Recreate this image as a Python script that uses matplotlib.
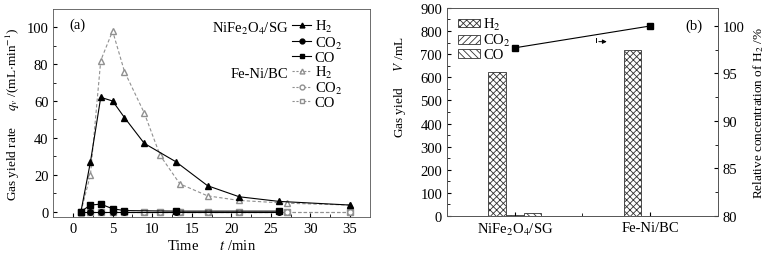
import numpy as np
import matplotlib
matplotlib.use("Agg")
import matplotlib.pyplot as plt
from matplotlib.lines import Line2D

plt.rcParams['font.family'] = ['Liberation Serif', 'DejaVu Serif']
plt.rcParams['mathtext.fontset'] = 'stix'
plt.rcParams['font.size'] = 10.5
plt.rcParams['axes.labelsize'] = 9.5
plt.rcParams['hatch.linewidth'] = 0.6

# (a) gas yield rate vs time
t_sg_h2 = [1, 2.2, 3.5, 5, 6.5, 9, 13, 17, 21, 26, 35]
q_sg_h2 = [0, 27, 62, 60, 51, 37, 27, 14, 8, 5.5, 3.5]
t_sg_co = [1, 2.2, 3.5, 5, 6.5, 13, 26]
q_sg_co = [0, 3.5, 4, 1.5, 0.5, 0.2, 0.2]
t_sg_co2 = [1, 2.2, 3.5, 5, 6.5, 13, 26]
q_sg_co2 = [0, 0, 0, 0, 0, 0, 0]

t_bc_h2 = [1, 2.2, 3.5, 5, 6.5, 9, 11, 13.5, 17, 21, 27, 35]
q_bc_h2 = [0, 20, 82, 98, 76, 53.5, 30.5, 15, 8.5, 6, 4.5, 3.5]
t_bc_co2 = [1, 2.2, 3.5, 5, 6.5, 9, 11, 13.5, 17, 21, 27, 35]
q_bc_co2 = [0, 0, 0, 0, 0, 0, 0, 0, 0, 0, 0, 0]
t_bc_co = [1, 2.2, 3.5, 5, 6.5, 9, 11, 13.5, 17, 21, 27, 35]
q_bc_co = [0, 0, 0, 0, 0, 0, 0, 0, 0, 0, 0, 0]

# (b) total gas yield and H2 concentration
catalysts = ['NiFe$_2$O$_4$/SG', 'Fe-Ni/BC']
v_h2 = [622, 718]
v_co2 = [5, 0]
v_co = [12, 0]
h2_conc = [97.7, 100.0]

fig = plt.figure(figsize=(7.72, 2.55), dpi=100)

# ---------- panel (a)
ax = fig.add_axes([0.069, 0.145, 0.41, 0.816])
k = dict(color='black', lw=0.8, ms=4)
g = dict(color='#909090', lw=0.8, ls=(0, (3, 2)), ms=4, mfc='white')
ax.plot(t_bc_co, q_bc_co, marker='s', **g)
ax.plot(t_bc_co2, q_bc_co2, marker='o', **g)
ax.plot(t_bc_h2, q_bc_h2, marker='^', **g)
ax.plot(t_sg_co, q_sg_co, marker='s', **k)
ax.plot(t_sg_co2, q_sg_co2, marker='o', **k)
ax.plot(t_sg_h2, q_sg_h2, marker='^', **k)

ax.set_xlim(-2.5, 37.5)
ax.set_ylim(-3, 110)
ax.set_xticks(np.arange(0, 36, 5))
ax.set_xticks(np.arange(2.5, 36, 5), minor=True)
ax.set_yticks(np.arange(0, 101, 20))
ax.set_yticks(np.arange(10, 101, 20), minor=True)
ax.tick_params(direction='in', which='both', length=3)
ax.tick_params(which='minor', length=2)
ax.set_xlabel('Time      $t$ /min', labelpad=2, fontsize=10.5)
ax.set_ylabel('Gas yield rate     $q_v$ /(mL$\\cdot$min$^{-1}$)', labelpad=3)
ax.text(0.05, 0.96, '(a)', transform=ax.transAxes, va='top')

for s in ax.spines.values():
    s.set_linewidth(0.6)
    s.set_color('#555555')

# custom legend
h_sg = [Line2D([], [], marker=m, color='black', lw=0.8, ms=3.5) for m in ['^', 'o', 's']]
h_bc = [Line2D([], [], marker=m, color='#909090', lw=0.8, ls=(0, (2, 1.5)), ms=3.5, mfc='white')
        for m in ['^', 'o', 's']]
labs = ['H$_2$', 'CO$_2$', 'CO']
ax.legend(h_sg + h_bc, labs + labs, loc='upper left', frameon=False,
          bbox_to_anchor=(0.755, 0.955), handlelength=1.3, handletextpad=0.25,
          labelspacing=0.0, borderaxespad=0.0, borderpad=0.0)
ax.text(0.742, 0.91, 'NiFe$_2$O$_4$/SG', transform=ax.transAxes, ha='right', va='center')
ax.text(0.742, 0.69, 'Fe-Ni/BC', transform=ax.transAxes, ha='right', va='center')

# ---------- panel (b)
bx = fig.add_axes([0.579, 0.149, 0.351, 0.816])
x = np.arange(len(catalysts))
w = 0.13
bx.bar(x - w, v_h2, w, color='white', edgecolor='#333333', hatch='xxxxx', lw=0.6, label='H$_2$')
bx.bar(x, v_co2, w, color='white', edgecolor='#333333', hatch='/////', lw=0.6, label='CO$_2$')
bx.bar(x + w, v_co, w, color='white', edgecolor='#333333', hatch='\\\\\\\\\\', lw=0.6, label='CO')
bx.set_xlim(-0.5, 1.5)
bx.set_ylim(0, 900)
bx.set_xticks(x)
bx.set_xticklabels(catalysts)
bx.set_xticks([0.5], minor=True)
bx.set_yticks(np.arange(0, 901, 100))
bx.set_yticks(np.arange(50, 900, 100), minor=True)
bx.tick_params(direction='in', which='both', length=3)
bx.tick_params(which='minor', length=2)
bx.set_ylabel('Gas yield     $V$ /mL', labelpad=3)
bx.yaxis.set_label_coords(-0.145, 0.625)
bx.legend(loc='upper left', frameon=False, handlelength=1.5, handleheight=0.55,
          handletextpad=0.25, labelspacing=0.0, borderaxespad=0.0, borderpad=0.0,
          bbox_to_anchor=(0.04, 0.96))
bx.text(0.88, 0.95, '(b)', transform=bx.transAxes, va='top')

b2 = bx.twinx()
b2.plot(x, h2_conc, color='black', marker='s', lw=0.8, ms=4)
b2.set_ylim(80, 101.9)
b2.set_yticks(np.arange(80, 101, 5))
b2.set_yticks(np.arange(82.5, 101, 5), minor=True)
b2.tick_params(direction='in', which='both', length=3)
b2.tick_params(which='minor', length=2)
b2.set_ylabel('Relative concentration of H$_2$ /%', labelpad=5)
b2.annotate('', xy=(0.7, 98.35), xytext=(0.6, 98.35),
            arrowprops=dict(arrowstyle='-|>', color='black', lw=0.7, mutation_scale=6))
b2.plot([0.6, 0.6], [98.35, 98.75], color='black', lw=0.7)

for a in (bx, b2):
    for s in a.spines.values():
        s.set_linewidth(0.6)
        s.set_color('#555555')

fig.savefig('out.png', dpi=100)
